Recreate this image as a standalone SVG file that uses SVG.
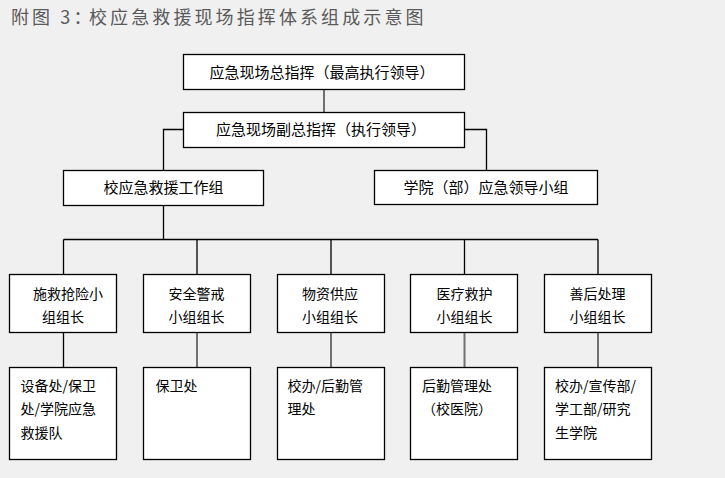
<svg xmlns="http://www.w3.org/2000/svg" width="725" height="478" viewBox="0 0 725 478">
<style>
.bx{fill:#fff;stroke:#000;stroke-width:1.3}
.t{font-family:"Noto Sans CJK SC","Noto Sans CJK JP",sans-serif;fill:#000}
.m{text-anchor:middle}
.c{fill:none;stroke:#000;stroke-width:1.3}
.g{fill:none;stroke:#707070;stroke-width:2}
.ttl{font-family:"Noto Sans CJK SC","Noto Sans CJK JP",sans-serif;fill:#5a5a5a;font-size:18px;letter-spacing:3.1px}
</style>
<rect x="0" y="0" width="725" height="478" fill="#f0f0f0"/>
<text class="ttl" x="11" y="24">附图 3：<tspan x="89">校应急救援现场指挥体系组成示意图</tspan></text>
<g id="connectors">
<path class="g" d="M324,89.5V112.5"/>
<path class="c" d="M183.5,129.5H163.5V170.5"/>
<path class="c" d="M464.5,129.5H486.5V170.5"/>
<path class="c" d="M163.5,205.5V239.5"/>
<path class="c" d="M63.5,239.5H598"/>
<path class="c" d="M63.5,239.5V274.5M197,239.5V274.5M331,239.5V274.5M464.5,239.5V274.5M598,239.5V274.5"/>
<path class="c" d="M63.5,332.5V367.5"/>
<path class="g" d="M197,332.5V367.5M331,332.5V367.5M464.5,332.5V367.5M598,332.5V367.5"/>
</g>
<g id="n1"><rect class="bx" x="183.5" y="54.5" width="281" height="35"/><text class="t m" x="322" y="77.5" font-size="15">应急现场总指挥（最高执行领导）</text></g>
<g id="n2"><rect class="bx" x="183.5" y="112.5" width="281" height="35"/><text class="t m" x="321" y="135.3" font-size="15">应急现场副总指挥（执行领导）</text></g>
<g id="n3"><rect class="bx" x="63.5" y="170.5" width="200" height="35"/><text class="t m" x="163.5" y="193" font-size="15">校应急救援工作组</text></g>
<g id="n4"><rect class="bx" x="374.5" y="170.5" width="223" height="34"/><text class="t m" x="486" y="193" font-size="15">学院（部）应急领导小组</text></g>
<g id="r1"><rect class="bx" x="9.5" y="274.5" width="107" height="58"/><text class="t" font-size="14"><tspan x="33" y="299">施救抢险小</tspan><tspan x="42" y="322">组组长</tspan></text></g>
<g id="r2"><rect class="bx" x="143.5" y="274.5" width="107" height="58"/><text class="t m" font-size="14"><tspan x="196.5" y="299">安全警戒</tspan><tspan x="196.5" y="322">小组组长</tspan></text></g>
<g id="r3"><rect class="bx" x="277.5" y="274.5" width="107" height="58"/><text class="t m" font-size="14"><tspan x="330" y="299">物资供应</tspan><tspan x="330" y="322">小组组长</tspan></text></g>
<g id="r4"><rect class="bx" x="410.5" y="274.5" width="107" height="58"/><text class="t m" font-size="14"><tspan x="464.5" y="299">医疗救护</tspan><tspan x="464.5" y="322">小组组长</tspan></text></g>
<g id="r5"><rect class="bx" x="544.5" y="274.5" width="107" height="58"/><text class="t m" font-size="14"><tspan x="597.5" y="299">善后处理</tspan><tspan x="597.5" y="322">小组组长</tspan></text></g>
<g id="l1"><rect class="bx" x="9.5" y="367.5" width="107" height="92"/><text class="t" font-size="14"><tspan x="20.5" y="391">设备处/保卫</tspan><tspan x="20.5" y="413.5">处/学院应急</tspan><tspan x="20.5" y="437.5">救援队</tspan></text></g>
<g id="l2"><rect class="bx" x="143.5" y="367.5" width="107" height="92"/><text class="t" font-size="14"><tspan x="155.5" y="391">保卫处</tspan></text></g>
<g id="l3"><rect class="bx" x="277.5" y="367.5" width="107" height="92"/><text class="t" font-size="14"><tspan x="287.5" y="391">校办/后勤管</tspan><tspan x="287.5" y="413.5">理处</tspan></text></g>
<g id="l4"><rect class="bx" x="410.5" y="367.5" width="107" height="92"/><text class="t" font-size="14"><tspan x="422" y="391">后勤管理处</tspan><tspan x="422" y="413.5">（校医院）</tspan></text></g>
<g id="l5"><rect class="bx" x="544.5" y="367.5" width="107" height="92"/><text class="t" font-size="14"><tspan x="555" y="391">校办/宣传部/</tspan><tspan x="555" y="413.5">学工部/研究</tspan><tspan x="555" y="437.5">生学院</tspan></text></g>
</svg>
